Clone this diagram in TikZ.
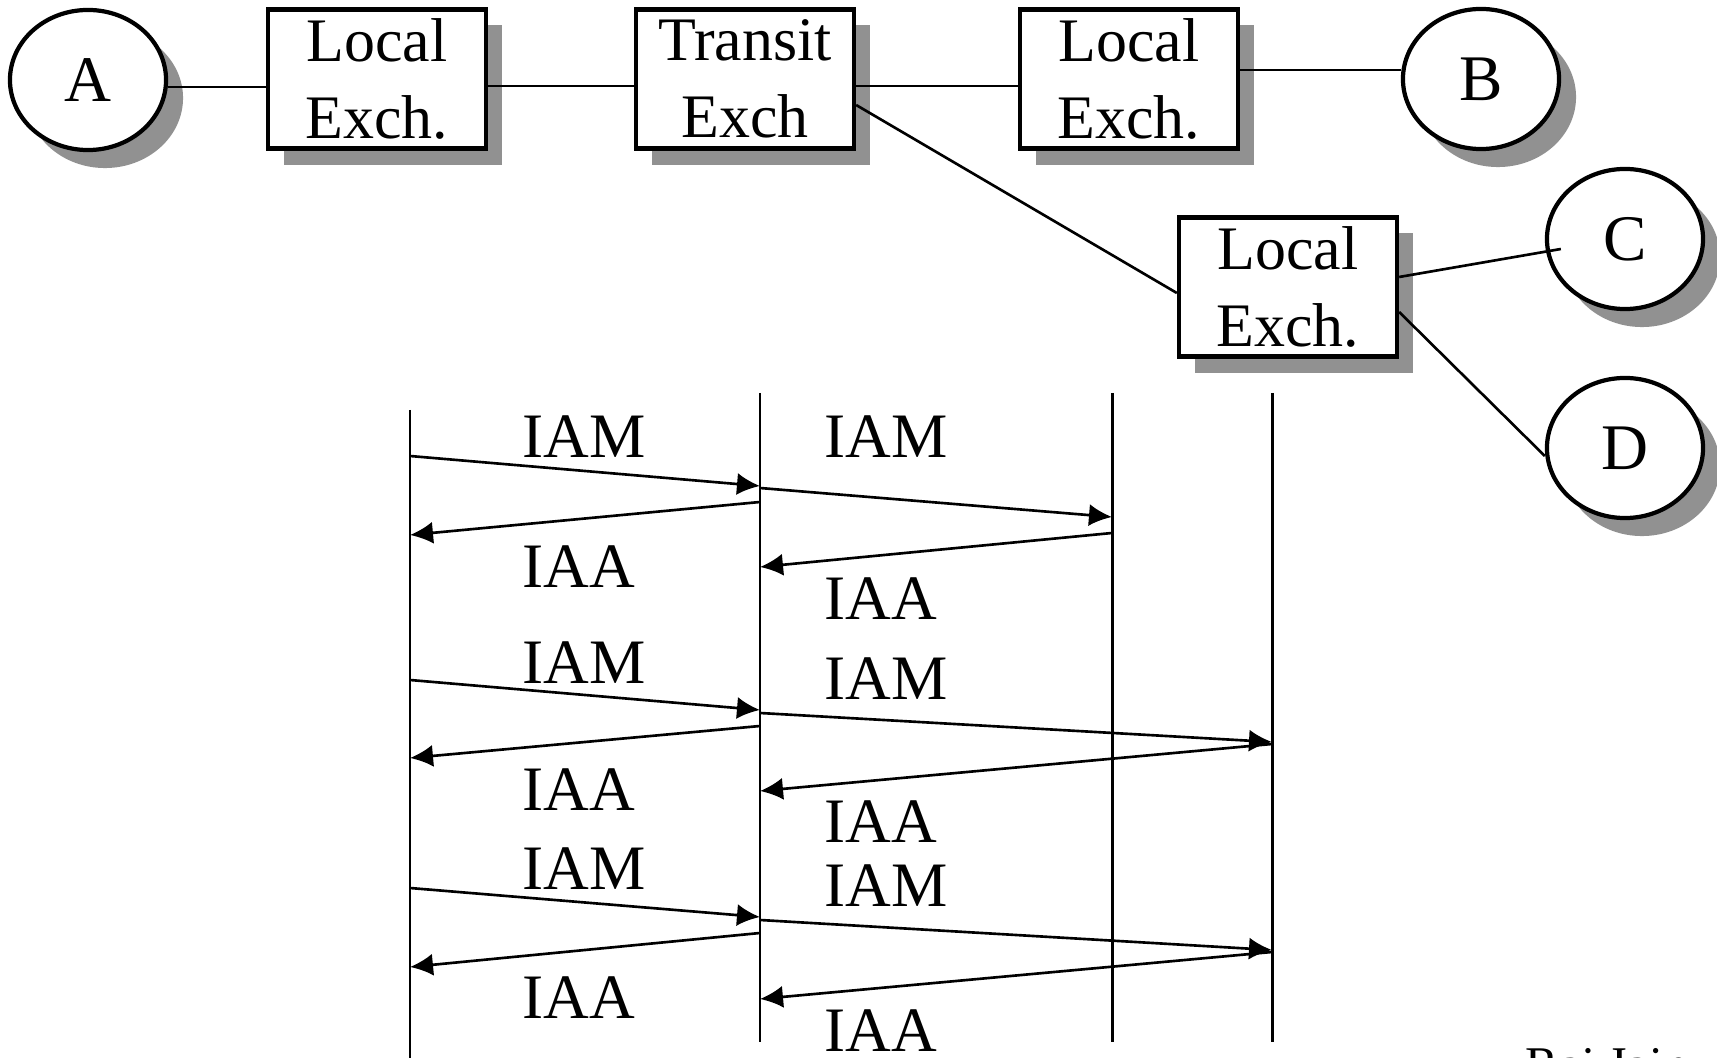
\documentclass[tikz,border=0pt]{standalone}
\usepackage{fontspec}
\setmainfont{Liberation Serif}
\usepackage{tikz}
\usetikzlibrary{calc,arrows.meta,shapes.geometric,shadows}
\definecolor{shadowgray}{RGB}{145,145,145}
\tikzset{
  exch/.style={draw,line width=1.2pt,fill=white,minimum width=2.18cm,minimum height=1.39cm,inner sep=0pt,align=center,font=\fontsize{17.6}{21.8}\selectfont,drop shadow={shadow xshift=0.16cm,shadow yshift=-0.16cm,fill=shadowgray,opacity=1}},
  user/.style={ellipse,draw,line width=1.2pt,fill=white,minimum width=1.56cm,minimum height=1.40cm,inner sep=0pt,font=\fontsize{18.5}{22}\selectfont,drop shadow={shadow xshift=0.17cm,shadow yshift=-0.18cm,fill=shadowgray,opacity=1}},
  link/.style={line width=0.75pt},
  lifeline/.style={line width=0.85pt},
  msg/.style={line width=0.75pt,-{Latex[length=0.23cm,width=0.22cm]}},
  msglabel/.style={anchor=base west,inner sep=0pt,font=\fontsize{18}{22}\selectfont}
}
\begin{document}
\begin{tikzpicture}[x=0.01cm,y=-0.01cm]
  \useasboundingbox (0,0) rectangle (1717,1058);
  % network
  \node[user] (A) at (88,80) {A};
  \node[exch] (lex1) at (377,79) {Local\\Exch.};
  \node[exch] (transit) at (745,79) {Transit\\Exch};
  \node[exch] (lex3) at (1129,79) {Local\\Exch.};
  \node[user] (B) at (1481,79) {B};
  \node[exch] (lex4) at (1288,287) {Local\\Exch.};
  \node[user] (C) at (1625,239) {C};
  \node[user] (D) at (1625,448) {D};
  \draw[link] ([yshift=-0.07cm]A.east) -- ([yshift=-0.08cm]lex1.west);
  \draw[link] ([yshift=-0.07cm]lex1.east) -- ([yshift=-0.07cm]transit.west);
  \draw[link] ([yshift=-0.07cm]transit.east) -- ([yshift=-0.07cm]lex3.west);
  \draw[link] ([yshift=0.09cm]lex3.east) -- ([yshift=0.09cm]B.west);
  \draw[link] ([yshift=-0.26cm]transit.east) -- ([yshift=-0.06cm]lex4.west);
  \draw[link] ([yshift=0.10cm]lex4.east) -- ($(C.west)+(16,10)$);
  \draw[link] ([yshift=-0.25cm]lex4.east) -- ([yshift=-0.08cm]D.west);
  % lifelines
  \coordinate (l1top) at (410,410);
  \coordinate (l1bot) at (410,1070);
  \coordinate (l2top) at (760,393);
  \coordinate (l2bot) at (760,1042);
  \coordinate (l3top) at (1112,393);
  \coordinate (l3bot) at (1112,1042);
  \coordinate (l4top) at (1272,393);
  \coordinate (l4bot) at (1272,1042);
  \draw[lifeline] (l1top) -- (l1bot);
  \draw[lifeline] (l2top) -- (l2bot);
  \draw[lifeline] (l3top) -- (l3bot);
  \draw[lifeline] (l4top) -- (l4bot);
  % call to C
  \draw[msg] (l1top |- 0,456) -- (l2top |- 0,486);
  \draw[msg] (l2top |- 0,488) -- (l3top |- 0,517);
  \draw[msg] (l2top |- 0,502) -- (l1top |- 0,535);
  \draw[msg] (l3top |- 0,533) -- (l2top |- 0,567);
  \node[msglabel] (iam1a) at (522,458) {IAM};
  \node[msglabel] (iam1b) at (824,458) {IAM};
  \node[msglabel] (iaa1a) at (522,588) {IAA};
  \node[msglabel] (iaa1b) at (824,620) {IAA};
  % call to D
  \draw[msg] (l1top |- 0,680) -- (l2top |- 0,710);
  \draw[msg] (l2top |- 0,713) -- (l4top |- 0,742);
  \draw[msg] (l2top |- 0,726) -- (l1top |- 0,758);
  \draw[msg] (l4top |- 0,744) -- (l2top |- 0,791);
  \node[msglabel] (iam2a) at (522,684) {IAM};
  \node[msglabel] (iam2b) at (824,700) {IAM};
  \node[msglabel] (iaa2a) at (522,811) {IAA};
  \node[msglabel] (iaa2b) at (824,843) {IAA};
  %
  \draw[msg] (l1top |- 0,888) -- (l2top |- 0,917);
  \draw[msg] (l2top |- 0,920) -- (l4top |- 0,950);
  \draw[msg] (l2top |- 0,933) -- (l1top |- 0,967);
  \draw[msg] (l4top |- 0,952) -- (l2top |- 0,999);
  \node[msglabel] (iam3a) at (522,890) {IAM};
  \node[msglabel] (iam3b) at (824,907) {IAM};
  \node[msglabel] (iaa3a) at (522,1018) {IAA};
  \node[msglabel] (iaa3b) at (824,1051) {IAA};
  \node[anchor=base west,inner sep=0pt,font=\fontsize{14.2}{17}\selectfont] (author) at (1525,1081) {Raj Jain};
\end{tikzpicture}
\end{document}
